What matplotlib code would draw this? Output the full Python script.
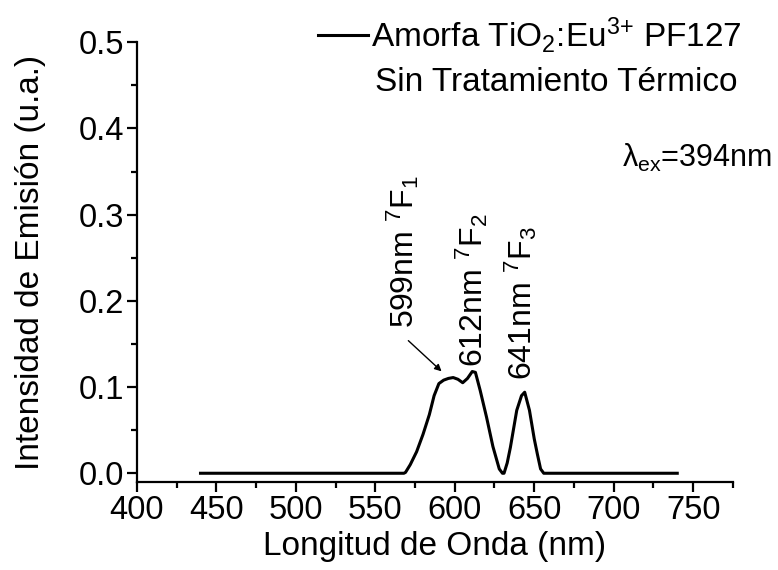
import numpy as np
import matplotlib
matplotlib.use("Agg")
import matplotlib.pyplot as plt

plt.rcParams['font.family'] = ['Liberation Sans', 'DejaVu Sans']
plt.rcParams['mathtext.fontset'] = 'custom'
plt.rcParams['mathtext.rm'] = 'Liberation Sans'
plt.rcParams['mathtext.it'] = 'Liberation Sans'

# emission spectrum
wavelength = [440, 568, 569, 572, 576, 580, 584, 587, 590, 593, 596, 599, 602, 605,
              608, 611, 613, 616, 620, 624, 628, 630, 631, 633, 635, 639, 642, 644,
              647, 650, 652, 654, 656, 740]
intensity = [0.0, 0.0, 0.001, 0.010, 0.025, 0.045, 0.068, 0.090, 0.104, 0.108, 0.110,
             0.111, 0.109, 0.105, 0.110, 0.118, 0.117, 0.096, 0.065, 0.031, 0.005, 0.0,
             0.0, 0.012, 0.030, 0.073, 0.090, 0.094, 0.073, 0.040, 0.022, 0.005, 0.0, 0.0]

xticks = [400, 450, 500, 550, 600, 650, 700, 750]
yticks = [0.0, 0.1, 0.2, 0.3, 0.4, 0.5]

fig = plt.figure(figsize=(7.78, 5.70), dpi=100)
ax = fig.add_axes([0.176, 0.154, 0.766, 0.772])

ax.plot(wavelength, intensity, 'k-', lw=2.2,
        label=r'Amorfa TiO$_2$:Eu$^{3{+}}$ PF127')

ax.set_xlim(400, 775)
ax.set_ylim(-0.0104, 0.5)
ax.set_xticks(xticks)
ax.set_yticks(yticks)
ax.set_yticklabels(['%.1f' % v for v in yticks])
ax.set_xticks(np.arange(425, 776, 50), minor=True)
ax.set_yticks(np.arange(0.05, 0.5, 0.1), minor=True)

for s in ['top', 'right']:
    ax.spines[s].set_visible(False)
for s in ['left', 'bottom']:
    ax.spines[s].set_linewidth(1.6)
ax.tick_params(which='major', direction='out', length=7, width=1.6, labelsize=23.5, pad=2)
ax.tick_params(which='minor', direction='out', length=4, width=1.6)

ax.set_xlabel('Longitud de Onda (nm)', fontsize=24, labelpad=4)
ax.set_ylabel('Intensidad de Emisión (u.a.)', fontsize=24, labelpad=24)

leg = ax.legend(loc='upper right', bbox_to_anchor=(1.065, 1.13), frameon=False,
                fontsize=24, handlelength=1.5, handletextpad=0.1)

ax.text(1.008, 0.909, 'Sin Tratamiento Térmico', transform=ax.transAxes,
        ha='right', va='center', fontsize=24)
ax.text(1.065, 0.716, r'$\lambda_{\mathrm{ex}}$=394nm', transform=ax.transAxes,
        ha='right', va='baseline', fontsize=22)

ax.text(567, 0.169, r'599nm $^7$F$_1$', rotation=90, ha='center', va='bottom', fontsize=23)
ax.text(611, 0.123, r'612nm $^7$F$_2$', rotation=90, ha='center', va='bottom', fontsize=23)
ax.text(641.5, 0.108, r'641nm $^7$F$_3$', rotation=90, ha='center', va='bottom', fontsize=23)

ax.annotate('', xy=(593, 0.116), xytext=(569.5, 0.156),
            arrowprops=dict(arrowstyle='-|>', color='k', lw=1, mutation_scale=10))

fig.savefig('out.png', dpi=100)
